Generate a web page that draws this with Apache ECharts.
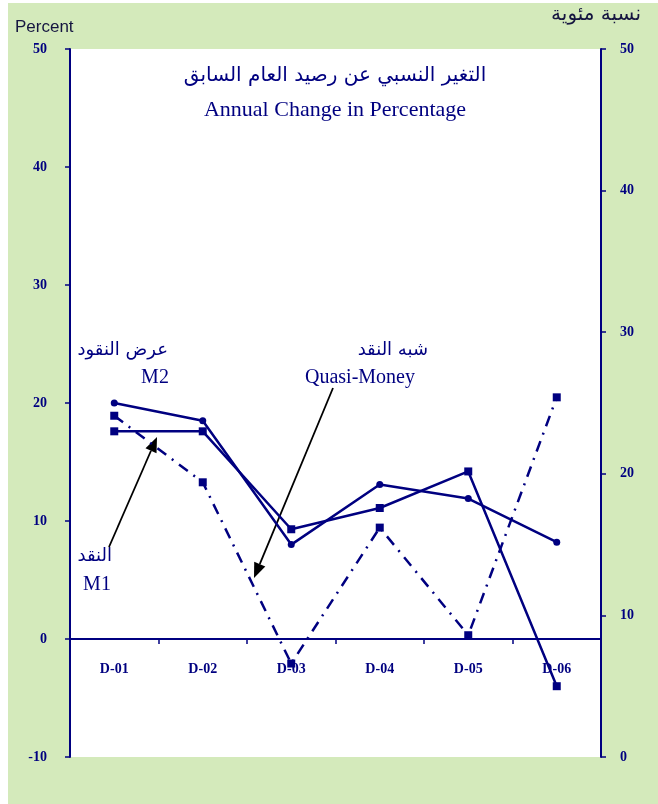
<!DOCTYPE html>
<html>
<head>
<meta charset="utf-8">
<script src="https://cdn.jsdelivr.net/npm/echarts@6/dist/echarts.min.js"></script>
<style>
  html, body { margin: 0; padding: 0; background: #fff; }
  #chart { width: 658px; height: 804px; }
</style>
</head>
<body>
<div id="chart"></div>
<script>
// data
var categories = ['D-01', 'D-02', 'D-03', 'D-04', 'D-05', 'D-06']
var m2 = [20.0, 18.5, 8.0, 13.1, 11.9, 8.2]          // left axis
var m1 = [17.6, 17.6, 9.3, 11.1, 14.2, -4.0]         // left axis
var quasiMoney = [24.1, 19.4, 6.6, 16.2, 8.6, 25.4]  // right axis
var leftTicks = [-10, 50, 10]   // min, max, interval
var rightTicks = [0, 50, 10]

var navy = '#000080'
var axisFont = { color: navy, fontFamily: 'Liberation Serif', fontWeight: 'bold', fontSize: 14 }

// arrow = line + triangle head
function arrow(x1, y1, x2, y2) {
  var a = Math.atan2(y2 - y1, x2 - x1)
  var len = 15, half = 6
  var bx = x2 - len * Math.cos(a), by = y2 - len * Math.sin(a)
  var px = -Math.sin(a) * half, py = Math.cos(a) * half
  return [
    { type: 'line', shape: { x1: x1, y1: y1, x2: bx, y2: by }, style: { stroke: '#000', lineWidth: 1.8 } },
    { type: 'polygon', shape: { points: [[x2, y2], [bx + px, by + py], [bx - px, by - py]] }, style: { fill: '#000' } }
  ]
}

var chart = echarts.init(document.getElementById('chart'))
var option = {
  backgroundColor: '#fff',
  animation: false,
  grid: {
    left: 70, right: 57, top: 49, bottom: 47,
    show: true, backgroundColor: '#fff', borderWidth: 0
  },
  xAxis: [
    {
      type: 'category',
      data: categories,
      boundaryGap: true,
      axisLine: { onZero: true, lineStyle: { color: navy, width: 2 } },
      axisTick: { show: true, length: 5, lineStyle: { color: navy, width: 1.5 } },
      axisLabel: { show: false }
    },
    {
      // labels only, lifted up to sit under the zero line
      type: 'category',
      data: categories,
      position: 'bottom',
      offset: -118,
      axisLine: { show: false },
      axisTick: { show: false },
      axisLabel: Object.assign({ margin: 23 }, axisFont)
    }
  ],
  yAxis: [
    {
      type: 'value',
      min: leftTicks[0], max: leftTicks[1], interval: leftTicks[2],
      axisLine: { show: true, lineStyle: { color: navy, width: 2 } },
      axisTick: { show: true, length: 5, lineStyle: { color: navy, width: 1.5 } },
      axisLabel: Object.assign({ margin: 23 }, axisFont),
      splitLine: { show: false }
    },
    {
      type: 'value',
      position: 'right',
      min: rightTicks[0], max: rightTicks[1], interval: rightTicks[2],
      axisLine: { show: true, onZero: false, lineStyle: { color: navy, width: 2 } },
      axisTick: { show: true, length: 5, lineStyle: { color: navy, width: 1.5 } },
      axisLabel: Object.assign({ margin: 19 }, axisFont),
      splitLine: { show: false }
    }
  ],
  series: [
    {
      name: 'M2', type: 'line', data: m2, yAxisIndex: 0,
      symbol: 'circle', symbolSize: 7,
      lineStyle: { color: navy, width: 2.5 }, itemStyle: { color: navy }
    },
    {
      name: 'M1', type: 'line', data: m1, yAxisIndex: 0,
      symbol: 'rect', symbolSize: 8,
      lineStyle: { color: navy, width: 2.5 }, itemStyle: { color: navy }
    },
    {
      name: 'Quasi-Money', type: 'line', data: quasiMoney, yAxisIndex: 1,
      symbol: 'rect', symbolSize: 8,
      lineStyle: { color: navy, width: 2.5, type: [11, 7, 2, 7] }, itemStyle: { color: navy }
    }
  ],
  graphic: [
    // green frame behind everything
    { type: 'rect', z: -10, silent: true, shape: { x: 8, y: 3, width: 650, height: 801 }, style: { fill: '#d4eabb' } },
    { type: 'text', x: 15, y: 27, style: { text: 'Percent', fill: '#151540', font: '17px "Liberation Sans"', verticalAlign: 'middle' } },
    { type: 'text', x: 641, y: 15, style: { text: 'نسبة مئوية', fill: '#151540', font: '20px "DejaVu Sans"', align: 'right', verticalAlign: 'middle' } },
    { type: 'text', x: 335, y: 76, style: { text: 'التغير النسبي عن رصيد العام السابق', fill: navy, font: '20px "DejaVu Sans"', align: 'center', verticalAlign: 'middle' } },
    { type: 'text', x: 335, y: 110, style: { text: 'Annual Change in Percentage', fill: navy, font: '22px "Liberation Serif"', align: 'center', verticalAlign: 'middle' } },
    { type: 'text', x: 168, y: 350, style: { text: 'عرض النقود', fill: navy, font: '18px "DejaVu Sans"', align: 'right', verticalAlign: 'middle' } },
    { type: 'text', x: 155, y: 378, style: { text: 'M2', fill: navy, font: '20px "Liberation Serif"', align: 'center', verticalAlign: 'middle' } },
    { type: 'text', x: 428, y: 350, style: { text: 'شبه النقد', fill: navy, font: '18px "DejaVu Sans"', align: 'right', verticalAlign: 'middle' } },
    { type: 'text', x: 360, y: 378, style: { text: 'Quasi-Money', fill: navy, font: '20px "Liberation Serif"', align: 'center', verticalAlign: 'middle' } },
    { type: 'text', x: 112, y: 556, style: { text: 'النقد', fill: navy, font: '18px "DejaVu Sans"', align: 'right', verticalAlign: 'middle' } },
    { type: 'text', x: 97, y: 585, style: { text: 'M1', fill: navy, font: '20px "Liberation Serif"', align: 'center', verticalAlign: 'middle' } }
  ].concat(arrow(109, 547, 157, 437)).concat(arrow(333, 388, 254, 578))
}
chart.setOption(option)
</script>
</body>
</html>
